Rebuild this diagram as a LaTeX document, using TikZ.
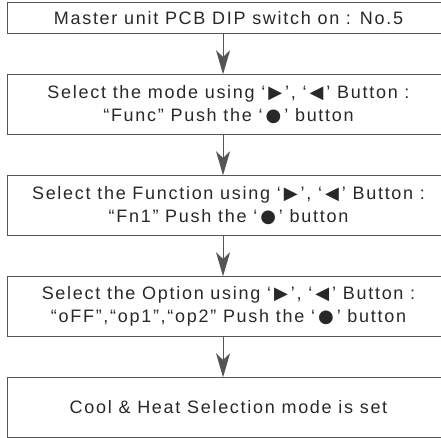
\documentclass[tikz,border=0pt]{standalone}
\usepackage{fontspec}
\setmainfont{Liberation Sans}[LetterSpace=9.5]
\newfontfamily\symfont{DejaVu Sans}
\usepackage{tikz}
\usetikzlibrary{arrows.meta,positioning}
\definecolor{boxline}{RGB}{85,85,85}
\definecolor{ink}{RGB}{40,40,40}
\newcommand{\btn}[1]{{\symfont #1}}

\begin{document}
\begin{tikzpicture}[
      x=0.75pt, y=0.75pt,
      node distance=30.75pt,
      box/.style={rectangle, text=ink, minimum width=330.75pt, minimum height=44.6pt, align=center, inner sep=0pt, font=\fontsize{13.5}{17.25}\selectfont},
      frame/.style={draw=boxline, line width=0.8pt},
      arrow/.style={-{Stealth[length=18pt, width=10.5pt, inset=5pt]}, draw=boxline, line width=0.8pt}
    ]
    \useasboundingbox (0,0) rectangle (441,-437);
    \coordinate (edge) at (441,0);

    % Steps
    \node[box, minimum height=22.5pt] (dip) at (228.5,-18) {Master unit PCB DIP switch on : No.5};
    \node[box, below=of dip] (mode) {Select the mode using ‘\,\btn{▶}\,’, ‘\,\btn{◀}\,’ Button :\\“Func” Push the ‘\,\btn{●}\,’ button};
    \node[box, below=of mode] (func) {Select the Function using ‘\,\btn{▶}\,’, ‘\,\btn{◀}\,’ Button :\\“Fn1” Push the ‘\,\btn{●}\,’ button};
    \node[box, below=of func] (opt) {Select the Option using ‘\,\btn{▶}\,’, ‘\,\btn{◀}\,’ Button :\\“oFF”,“op1”,“op2” Push the ‘\,\btn{●}\,’ button};
    \node[box, below=of opt] (set) {Cool \& Heat Selection mode is set};

    % Box frames, open where the page cuts them
    \foreach \n in {dip,mode,func,opt,set}
      \draw[frame] (\n.north west -| edge) -- (\n.north west) -- (\n.south west) -- (\n.south west -| edge);

    % Flow arrows
    \draw[arrow] ([xshift=-4.1pt]dip.south) -- ([xshift=-4.1pt]mode.north);
    \draw[arrow] ([xshift=-4.1pt]mode.south) -- ([xshift=-4.1pt]func.north);
    \draw[arrow] ([xshift=-4.1pt]func.south) -- ([xshift=-4.1pt]opt.north);
    \draw[arrow] ([xshift=-4.1pt]opt.south) -- ([xshift=-4.1pt]set.north);
\end{tikzpicture}
\end{document}
